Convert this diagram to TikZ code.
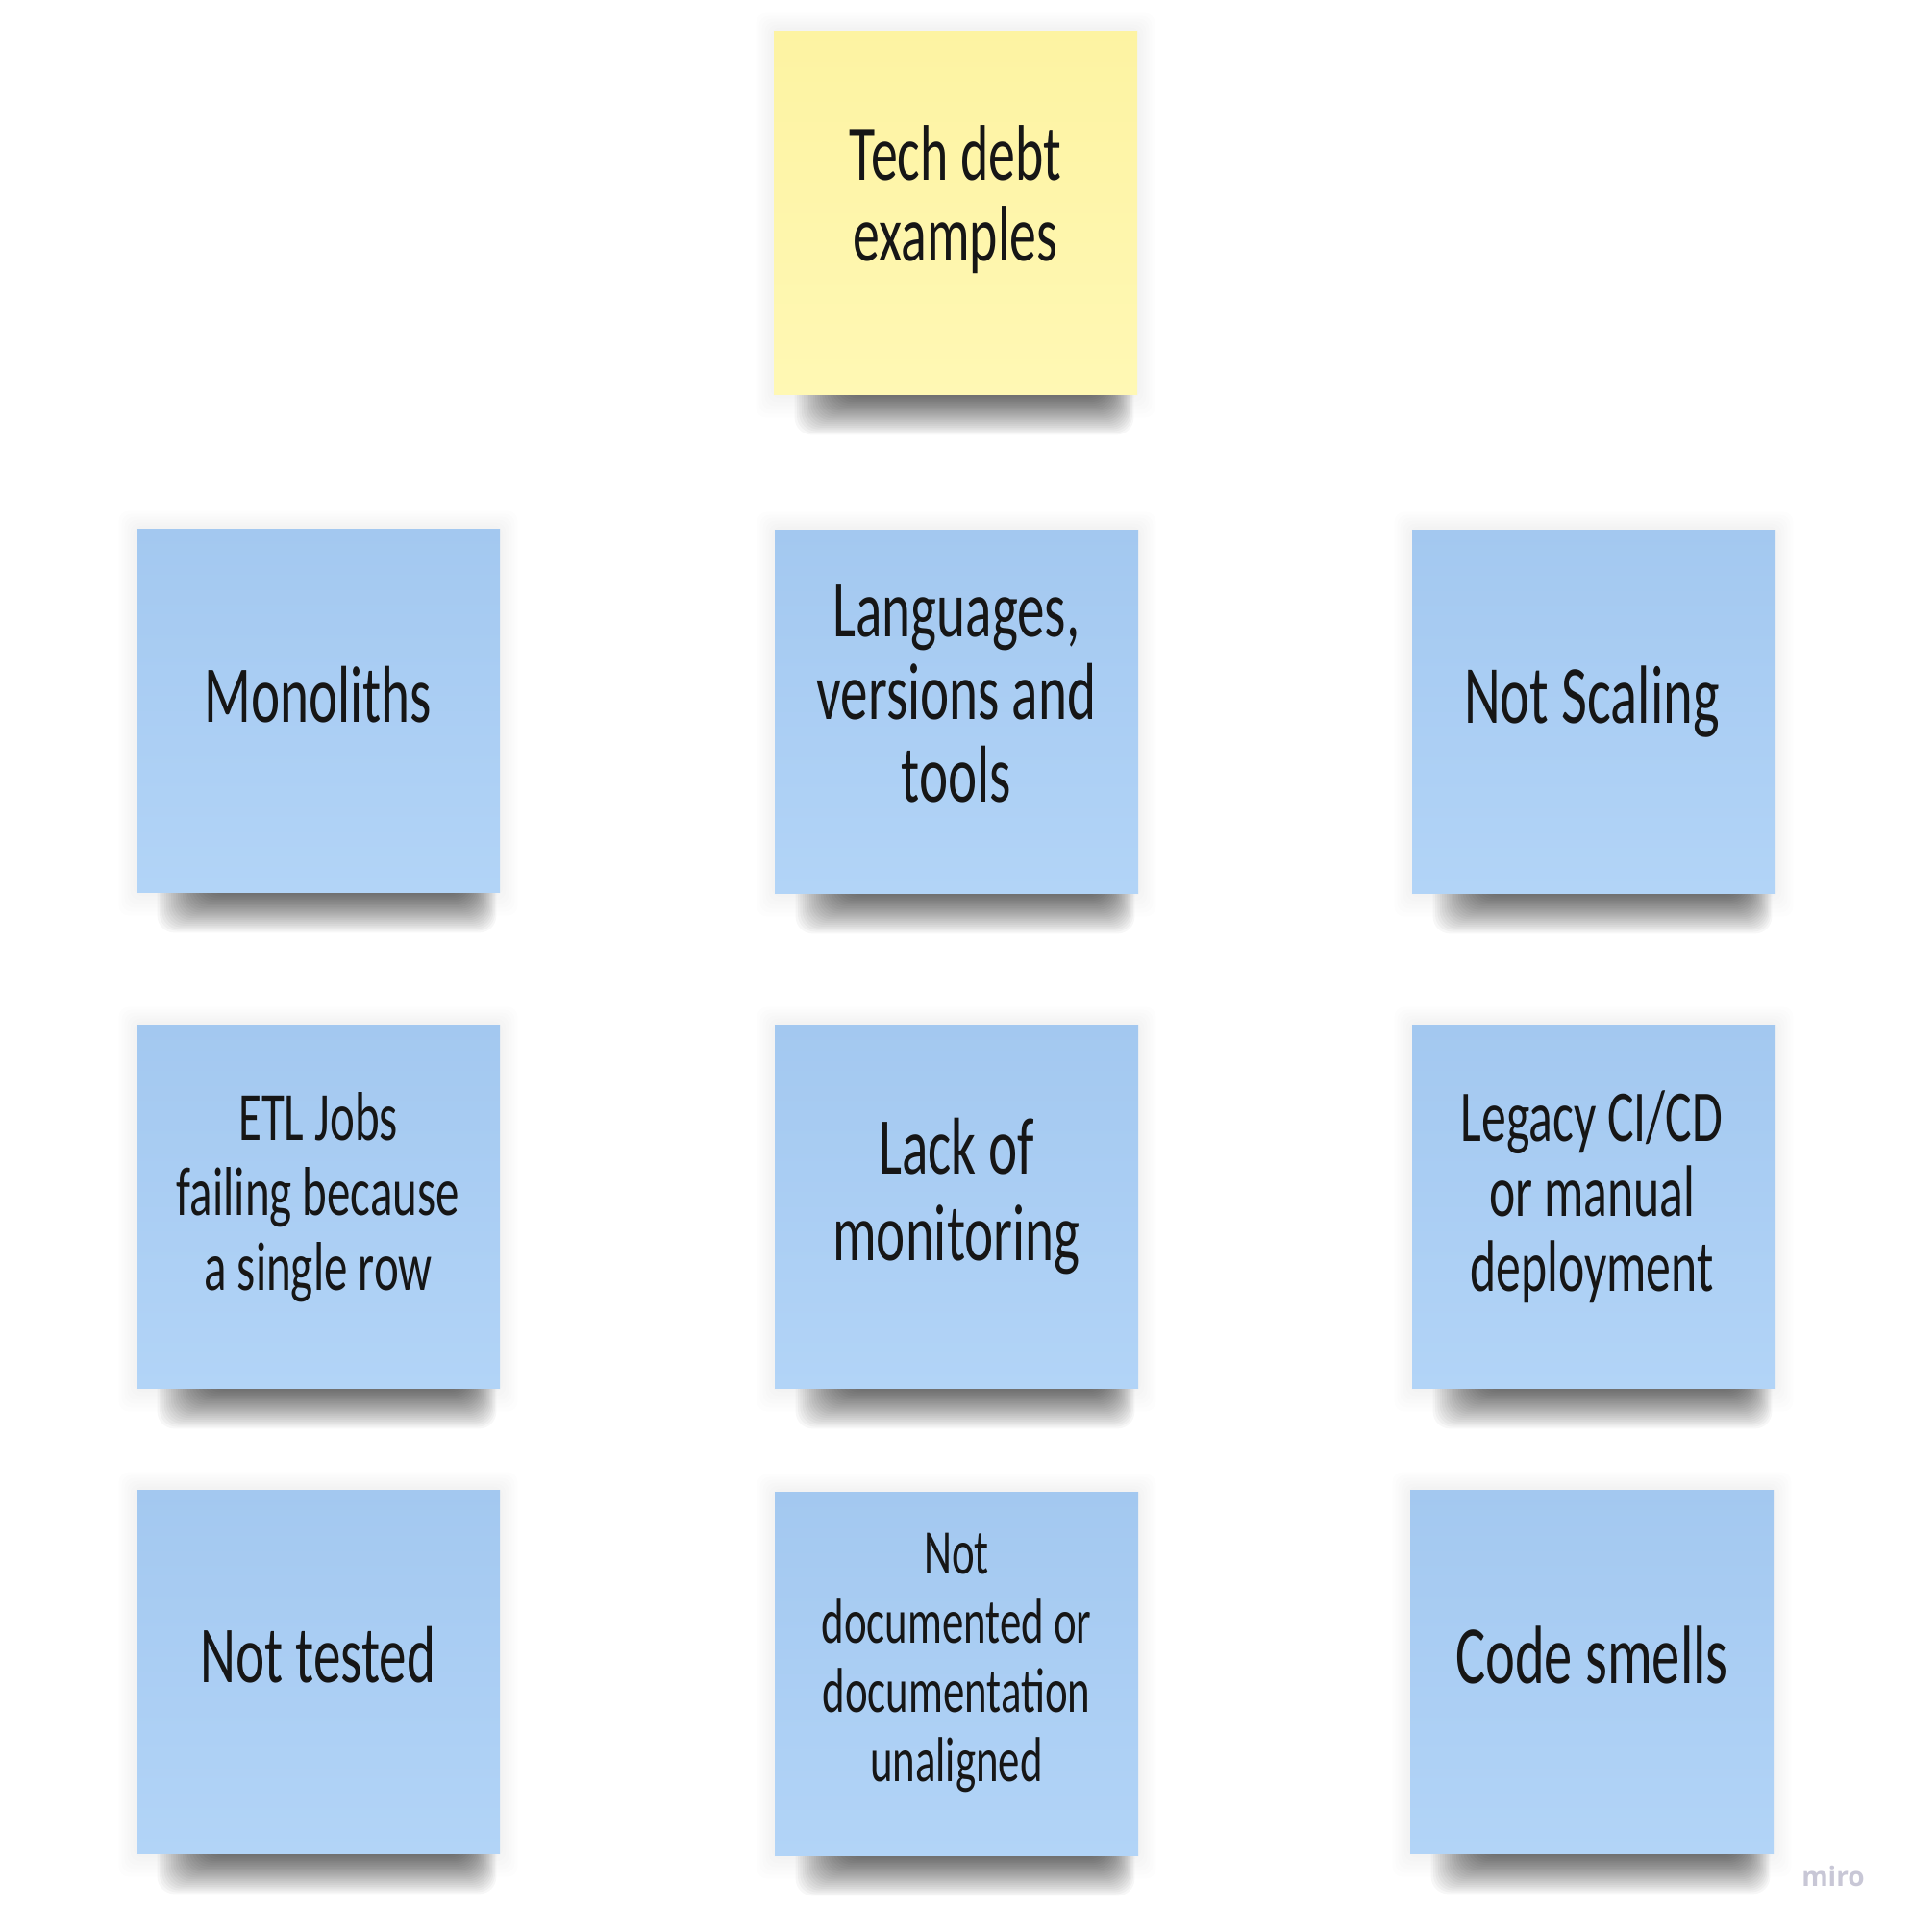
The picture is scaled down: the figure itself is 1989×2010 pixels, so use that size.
\documentclass[tikz,border=0pt]{standalone}
\usepackage{fontspec}
\newfontfamily\hand[FakeStretch=0.68]{Carlito}
\newfontfamily\logofont{Open Sans}
\usetikzlibrary{calc}
\pgfdeclarelayer{background}
\pgfsetlayers{background,main}
\definecolor{bluetop}{HTML}{A3C8F0}
\definecolor{bluebot}{HTML}{B2D4F7}
\definecolor{yeltop}{HTML}{FDF3A2}
\definecolor{yelbot}{HTML}{FFF8B4}
\definecolor{mirogray}{HTML}{C8C7D6}
\definecolor{ink}{HTML}{161616}
\begin{document}
\begin{tikzpicture}[x=0.5pt,y=-0.5pt,
  note/.style={rectangle, minimum width=189pt, minimum height=189pt, inner sep=0pt, draw=none, shading=axis},
  bluenote/.style={note, top color=bluetop, bottom color=bluebot},
  yellownote/.style={note, top color=yeltop, bottom color=yelbot},
  txt/.style 2 args={align=center, inner sep=0pt, text=ink, font={\hand\fontsize{#1}{#2}\selectfont}},
  shadowlayer/.style={fill=black, opacity=0.03, rounded corners=9pt},
  halolayer/.style={fill=black, opacity=0.008, rounded corners=5pt}
]
\begin{pgfonlayer}{background}
\fill[white] (0,0) rectangle (1989,2010);
\end{pgfonlayer}
\useasboundingbox (0,0) rectangle (1989,2010);

% notes
\node[yellownote] (tech) at (994,221) {};
\node[bluenote] (mono) at (331,739) {};
\node[bluenote] (lang) at (995,740) {};
\node[bluenote] (scal) at (1658,740) {};
\node[bluenote] (etl) at (331,1255) {};
\node[bluenote] (lack) at (995,1255) {};
\node[bluenote] (legacy) at (1658,1255) {};
\node[bluenote] (test) at (331,1739) {};
\node[bluenote] (doc) at (995,1741) {};
\node[bluenote] (code) at (1656,1739) {};

% shadows
\begin{pgfonlayer}{background}
\foreach \n in {tech,mono,lang,scal,etl,lack,legacy,test,doc,code}{
  \foreach \i in {1,...,6}{
    \path[halolayer] ($(\n.north west)+({-3*\i},{-3*\i})$) rectangle ($(\n.south east)+({3*\i},{4*\i})$);
  }
  \foreach \i in {0,...,23}{
    \path[shadowlayer] ($(\n.south west)+({22+2.4*\i},-20)$) rectangle ($(\n.south east)+({-4-1.5*\i},{42-1.9*\i})$);
  }
}
\end{pgfonlayer}

% texts
\node[txt={41pt}{42pt}] (techT) at (994,208) {Tech debt\\examples};
\node[txt={42pt}{42pt}] (monoT) at (331,723) {Monoliths};
\node[txt={42pt}{43pt}] (langT) at (995,722) {Languages,\\versions and\\tools};
\node[txt={43pt}{43pt}] (scalT) at (1656,730) {Not Scaling};
\node[txt={36pt}{39pt}] (etlT) at (331,1246) {ETL Jobs\\failing because\\a single row};
\node[txt={42pt}{45pt}] (lackT) at (995,1245) {Lack of\\monitoring};
\node[txt={38pt}{39pt}] (legacyT) at (1656,1245) {Legacy CI/CD\\or manual\\deployment};
\node[txt={42pt}{42pt}] (testT) at (331,1722) {Not tested};
\node[txt={33pt}{36pt}] (docT) at (995,1730) {Not\\documented or\\documentation\\unaligned};
\node[txt={43pt}{43pt}] (codeT) at (1656,1722) {Code smells};

% logo
\node[font={\logofont\bfseries\fontsize{14pt}{14pt}\selectfont}, text=mirogray, inner sep=0pt] (miro) at (1907,1952) {miro};
\end{tikzpicture}
\end{document}
